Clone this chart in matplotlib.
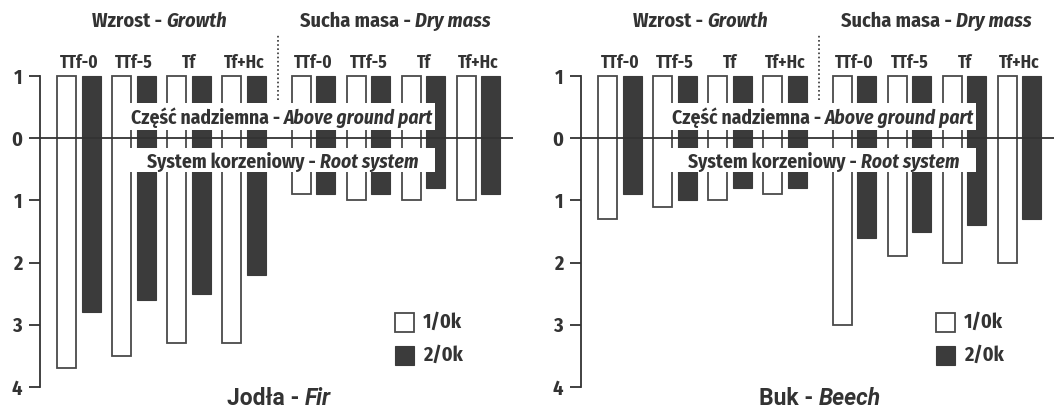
import matplotlib
matplotlib.use("Agg")
import matplotlib.pyplot as plt
from matplotlib.patches import Rectangle
import numpy as np

# ---- data ----
groups = ["TTf-0", "TTf-5", "Tf", "Tf+Hc"]
sections = ["Wzrost - ", "Growth", "Sucha masa - ", "Dry mass"]
above = [1, 1, 1, 1, 1, 1, 1, 1]
# Fir (Jodła) root system values: growth (4) + dry mass (4)
fir_1_0k = [3.7, 3.5, 3.3, 3.3, 0.9, 1.0, 1.0, 1.0]
fir_2_0k = [2.8, 2.6, 2.5, 2.2, 0.9, 0.9, 0.8, 0.9]
# Beech (Buk)
beech_1_0k = [1.3, 1.1, 1.0, 0.9, 3.0, 1.9, 2.0, 2.0]
beech_2_0k = [0.9, 1.0, 0.8, 0.8, 1.6, 1.5, 1.4, 1.3]
ytick_vals = [1, 0, -1, -2, -3, -4]
ytick_labels = ["1", "0", "1", "2", "3", "4"]
legend_labels = ["1/0k", "2/0k"]

NARROW = ["Liberation Sans Narrow", "Fira Sans Condensed", "DejaVu Sans"]
WIDE = ["Roboto", "DejaVu Sans"]
TXT = "#333333"
DARK = "#3b3b3b"
EDGE = "#4a4a4a"

W, H = 1056, 409
fig = plt.figure(figsize=(W / 100, H / 100), dpi=100)

PX_X = 55.0   # px per x unit
PX_Y = 62.2   # px per y unit
ylim = (-4 - (409 - 387) / PX_Y, 1 + 76 / PX_Y)
xlim = ((40 - 79) / PX_X, (513 - 79) / PX_X)

xpos = np.array([0, 1, 2, 3, 4.264, 5.264, 6.264, 7.264])
off = 12.25 / PX_X
bw = 19 / PX_X


def place_pair(ax, t1, t2, cx, y):
    r = fig.canvas.get_renderer()
    b1 = t1.get_window_extent(r)
    b2 = t2.get_window_extent(r)
    total = b1.width + b2.width
    inv = ax.transData.inverted()
    cxp, yp = ax.transData.transform((cx, y))
    startx = cxp - total / 2
    x1d = inv.transform((startx, yp))[0]
    x2d = inv.transform((startx + b1.width, yp))[0]
    t1.set_position((x1d, y))
    t2.set_position((x2d, y))


def pair(ax, a, b, cx, y, size, fam, z=5):
    t1 = ax.text(0, 0, a, fontsize=size, fontweight="bold", family=fam,
                 color=TXT, va="baseline", zorder=z)
    t2 = ax.text(0, 0, b, fontsize=size, fontweight="bold", style="italic",
                 family=fam, color=TXT, va="baseline", zorder=z)
    place_pair(ax, t1, t2, cx, y)


def panel(left_px, white, dark, title_bold, title_it):
    ax = fig.add_axes([left_px / W, 0, 473 / W, 1])
    ax.set_xlim(*xlim)
    ax.set_ylim(*ylim)
    ax.patch.set_alpha(0)
    for s in ["top", "right", "bottom"]:
        ax.spines[s].set_visible(False)
    ax.spines["left"].set_bounds(-4, 1)
    ax.spines["left"].set_linewidth(1.3)
    ax.spines["left"].set_color(TXT)
    ax.set_xticks([])
    ax.set_yticks(ytick_vals)
    ax.set_yticklabels(ytick_labels)
    ax.tick_params(axis="y", length=8, width=1.3, color=TXT, pad=5,
                   labelsize=14.5, labelcolor=TXT)
    for lab in ax.get_yticklabels():
        lab.set_family(NARROW)
        lab.set_fontweight("bold")

    w = np.array(white)
    d = np.array(dark)
    a = np.array(above)
    ax.bar(xpos - off, a + w, bottom=-w, width=bw, color="white",
           edgecolor=EDGE, linewidth=1.3, zorder=2)
    ax.bar(xpos + off, a + d, bottom=-d, width=bw, color=DARK,
           edgecolor=DARK, linewidth=0.8, zorder=2)

    # white label boxes
    x0 = (120 - 79) / PX_X
    x1 = (435 - 79) / PX_X
    ax.add_patch(Rectangle((x0, (138 - 130) / PX_Y), x1 - x0,
                           (130 - 103) / PX_Y, facecolor="white",
                           edgecolor="none", zorder=3))
    ax.add_patch(Rectangle((x0, -(172 - 138) / PX_Y), x1 - x0,
                           (172 - 148) / PX_Y, facecolor="white",
                           edgecolor="none", zorder=3))

    ax.axhline(0, color=TXT, linewidth=1.3, zorder=4)

    # dotted separator
    ax.plot([3.618, 3.618], [0.611, 1.656], linestyle=(0, (1, 1.5)),
            color=TXT, linewidth=1.2, zorder=4)

    # section titles
    pair(ax, sections[0], sections[1], 1.47, 1.783, 14.5, NARROW)
    pair(ax, sections[2], sections[3], 5.745, 1.783, 14.5, NARROW)

    for i, x in enumerate(xpos):
        ax.text(x, 1.133, groups[i % 4], ha="center", va="baseline",
                fontsize=12.5, fontweight="bold", family=NARROW, color=TXT,
                zorder=5)

    # part labels
    pair(ax, "Część nadziemna - ", "Above ground part", (282 - 79) / PX_X,
         0.236, 14, NARROW)
    pair(ax, "System korzeniowy - ", "Root system", (283 - 79) / PX_X,
         -0.487, 14, NARROW)

    # bottom title
    pair(ax, title_bold, title_it, 3.63, -4.29, 16.5, WIDE)

    # legend
    lx0 = (395 - 79) / PX_X
    lw = 19 / PX_X
    lh = 19 / PX_Y
    ax.add_patch(Rectangle((lx0, -3.12), lw, lh, facecolor="white",
                           edgecolor=EDGE, linewidth=1.3, zorder=5))
    ax.add_patch(Rectangle((lx0, -3.65), lw, lh, facecolor=DARK,
                           edgecolor=DARK, linewidth=0.8, zorder=5))
    ax.text((423 - 79) / PX_X, -2.965, legend_labels[0], va="center",
            fontsize=14.5, fontweight="bold", family=NARROW, color=TXT)
    ax.text((423 - 79) / PX_X, -3.495, legend_labels[1], va="center",
            fontsize=14.5, fontweight="bold", family=NARROW, color=TXT)
    return ax


panel(40, fir_1_0k, fir_2_0k, "Jodła - ", "Fir")
panel(581, beech_1_0k, beech_2_0k, "Buk - ", "Beech")

fig.savefig("out.png", dpi=100)
